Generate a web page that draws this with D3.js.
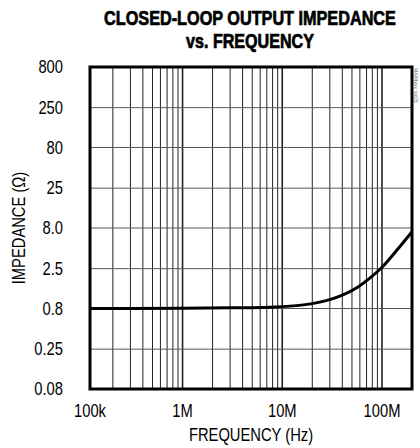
<!DOCTYPE html>
<html>
<head>
<meta charset="UTF-8">
<title>Closed-loop output impedance vs. frequency</title>
<script src="https://d3js.org/d3.v7.min.js"></script>
<style>
  body { margin: 0; background: #fff; }
  text { font-family: "Liberation Sans", Arial, sans-serif; fill: #000; }
</style>
</head>
<body>
<svg width="420" height="448"></svg>
<script>

// curve
var freq = [1.18e5, 3e5, 1e6, 3e6, 7.5e6, 2e7, 3e7, 4e7, 5.75e7, 7.5e7, 1e8, 1.4e8, 2e8];
var impedance = [0.80, 0.80, 0.805, 0.815, 0.83, 0.92, 1.03, 1.17, 1.48, 1.89, 2.6, 4.2, 7.2];

var xTicks = [1e5, 1e6, 1e7, 1e8];
var xLabels = ["100k", "1M", "10M", "100M"];
var yTicks = [0.08, 0.25, 0.8, 2.5, 8, 25, 80, 250, 800];
var yLabels = ["0.08", "0.25", "0.8", "2.5", "8.0", "25", "80", "250", "800"];

var svg = d3.select("svg"),
    margin = {top: 67, right: 8, bottom: 59, left: 90},
    width = +svg.attr("width") - margin.left - margin.right,
    height = +svg.attr("height") - margin.top - margin.bottom;

var x = d3.scaleLog().domain([1.18e5, 2e8]).range([0, width]),
    y = d3.scaleLog().domain([0.08, 800]).range([height, 0]);

var g = svg.append("g")
    .attr("transform", "translate(" + margin.left + "," + margin.top + ")");

// narrow type: squeeze Liberation Sans horizontally
var narrow = " scale(0.82,1)";

// vertical grid: every 1..9 x 10^k inside the frame
var vgrid = [];
[1e5, 1e6, 1e7, 1e8].forEach(function(d) {
  for (var k = 1; k < 10; k++) {
    var v = d * k;
    if (v > x.domain()[0] && v < x.domain()[1]) vgrid.push(v);
  }
});

g.selectAll(".vgrid")
  .data(vgrid)
  .enter().append("line")
    .attr("class", "vgrid")
    .attr("x1", function(d) { return x(d); })
    .attr("x2", function(d) { return x(d); })
    .attr("y1", 0)
    .attr("y2", height)
    .attr("stroke", "#222")
    .attr("stroke-width", function(d) { return xTicks.indexOf(d) >= 0 ? 1.6 : 1; });

g.selectAll(".hgrid")
  .data(yTicks.slice(1, -1))
  .enter().append("line")
    .attr("class", "hgrid")
    .attr("x1", 0)
    .attr("x2", width)
    .attr("y1", function(d) { return y(d); })
    .attr("y2", function(d) { return y(d); })
    .attr("stroke", "#555")
    .attr("stroke-width", 1);

// curve
var line = d3.line()
    .x(function(d) { return x(d[0]); })
    .y(function(d) { return y(d[1]); })
    .curve(d3.curveMonotoneX);

g.append("path")
    .datum(d3.zip(freq, impedance))
    .attr("d", line)
    .attr("fill", "none")
    .attr("stroke", "#000")
    .attr("stroke-width", 3);

// frame
g.append("rect")
    .attr("width", width)
    .attr("height", height)
    .attr("fill", "none")
    .attr("stroke", "#000")
    .attr("stroke-width", 3);

// tick labels
g.selectAll(".xlab")
  .data(xTicks)
  .enter().append("text")
    .attr("class", "xlab")
    .attr("transform", function(d) {
      return "translate(" + x(Math.max(d, x.domain()[0])) + "," + (height + 28) + ")" + narrow;
    })
    .attr("text-anchor", "middle")
    .style("font-size", "18px")
    .text(function(d, i) { return xLabels[i]; });

g.selectAll(".ylab")
  .data(yTicks)
  .enter().append("text")
    .attr("class", "ylab")
    .attr("transform", function(d) { return "translate(-27," + y(d) + ")" + narrow; })
    .attr("dy", "0.35em")
    .attr("text-anchor", "end")
    .style("font-size", "18px")
    .text(function(d, i) { return yLabels[i]; });

// axis titles
svg.append("text")
    .attr("transform", "translate(" + (margin.left + width / 2) + ",441)" + narrow)
    .attr("text-anchor", "middle")
    .style("font-size", "18px")
    .text("FREQUENCY (Hz)");

svg.append("text")
    .attr("transform", "translate(25," + (margin.top + height / 2) + ") rotate(-90)" + narrow)
    .attr("text-anchor", "middle")
    .style("font-size", "18px")
    .text("IMPEDANCE (\u03A9)");

// title, squeezed to the width it has in the picture
function title(txt, yPos, w) {
  var t = svg.append("text")
      .attr("text-anchor", "middle")
      .style("font-size", "20px")
      .style("font-weight", "bold")
      .style("stroke", "#000")
      .style("stroke-width", 0.7)
      .text(txt);
  var s = w / t.node().getComputedTextLength();
  t.attr("transform", "translate(250," + yPos + ") scale(" + s + ",1)");
}
title("CLOSED-LOOP OUTPUT IMPEDANCE", 25, 292);
title("vs. FREQUENCY", 48, 128);

// small figure code at the right edge
svg.append("text")
    .attr("transform", "translate(414,68) rotate(90)")
    .style("font-size", "5px")
    .style("fill", "#666")
    .text("MAX4xxx toc05");

</script>
</body>
</html>
